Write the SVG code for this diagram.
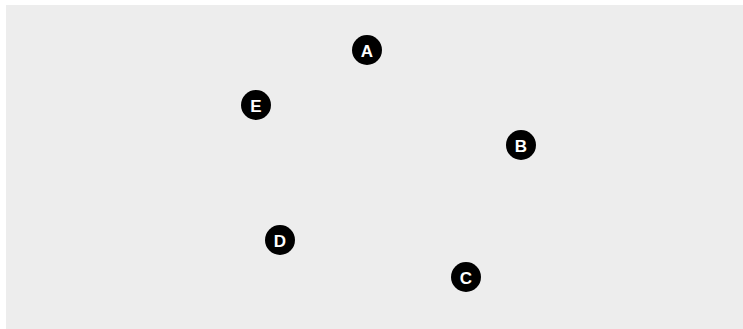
<svg xmlns="http://www.w3.org/2000/svg" width="743" height="329" viewBox="0 0 743 329">
<style>
.n circle{fill:#000}
.n text{fill:#fff;font-family:"Liberation Sans",Arial,sans-serif;font-weight:bold;font-size:17px;text-anchor:middle;dominant-baseline:central}
</style>
<rect x="0" y="0" width="743" height="329" fill="#fff"/>
<rect x="6" y="5" width="737" height="324" fill="#ededed"/>
<g id="connectors"></g>
<g id="node-A" class="n"><circle cx="367" cy="50" r="15"/><text x="367" y="51">A</text></g>
<g id="node-E" class="n"><circle cx="256" cy="105" r="15"/><text x="256" y="106">E</text></g>
<g id="node-B" class="n"><circle cx="521" cy="145" r="15"/><text x="521" y="146">B</text></g>
<g id="node-D" class="n"><circle cx="280" cy="240" r="15"/><text x="280" y="241">D</text></g>
<g id="node-C" class="n"><circle cx="466" cy="277" r="15"/><text x="466" y="278">C</text></g>
</svg>
